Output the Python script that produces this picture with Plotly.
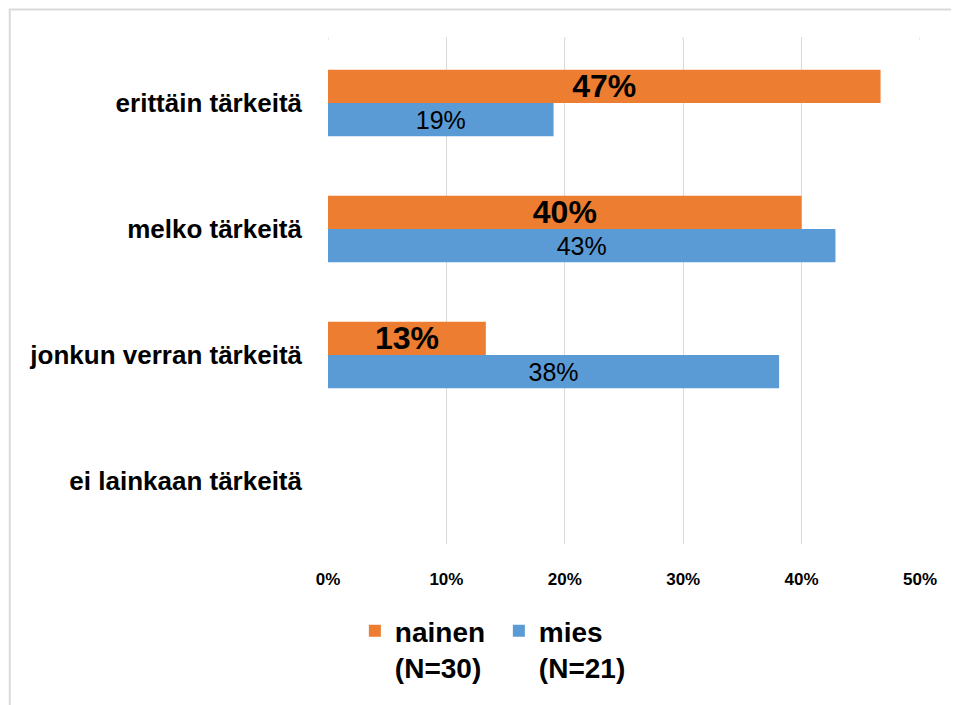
import plotly.graph_objects as go

categories = ["erittäin tärkeitä", "melko tärkeitä", "jonkun verran tärkeitä", "ei lainkaan tärkeitä"]
nainen = [46.67, 40.0, 13.33, 0]
mies = [19.05, 42.86, 38.10, 0]
nainen_labels = ["47%", "40%", "13%", ""]
mies_labels = ["19%", "43%", "38%", ""]
series_names = ["nainen<br>(N=30)", "mies<br>(N=21)"]
tick_vals = [0, 10, 20, 30, 40, 50]
tick_text = ["0%", "10%", "20%", "30%", "40%", "50%"]

FONT = "Liberation Sans"
OFF = 8  # page offset of the figure inside the window

fig = go.Figure()
fig.add_trace(go.Bar(
    y=categories, x=nainen, orientation="h", name=series_names[0],
    marker=dict(color="#ED7D31", line=dict(width=0)),
    text=nainen_labels, textposition="inside", insidetextanchor="middle",
    constraintext="none",
    textfont=dict(family=FONT, size=32, color="black", weight="bold"),
    textangle=0, cliponaxis=False,
))
fig.add_trace(go.Bar(
    y=categories, x=mies, orientation="h", name=series_names[1],
    marker=dict(color="#5B9BD5", line=dict(width=0)),
    text=mies_labels, textposition="inside", insidetextanchor="middle",
    constraintext="none",
    textfont=dict(family=FONT, size=25, color="black"),
    textangle=0, cliponaxis=False,
))

W, H = 959, 705
L, R, T, B = 327.5 - OFF, 920 - OFF, 40 - OFF, 544 - OFF
pw, ph = R - L, B - T

def px_x(p):
    return (p - OFF - L) / pw

def px_y(p):
    return (B - (p - OFF)) / ph

fig.update_layout(
    width=W, height=H,
    margin=dict(l=L, r=W - R, t=T, b=H - B, pad=0),
    paper_bgcolor="white", plot_bgcolor="white",
    barmode="group", bargap=0.471, bargroupgap=0,
    font=dict(family=FONT, color="black"),
    xaxis=dict(
        range=[0, 50], tickvals=tick_vals, ticktext=tick_text,
        showgrid=True, gridcolor="#d9d9d9", gridwidth=1,
        zeroline=False, showline=False,
        tickfont=dict(family=FONT, size=17, color="black", weight="bold"),
        ticklabelstandoff=23, fixedrange=True,
    ),
    yaxis=dict(
        autorange="reversed", showgrid=False, zeroline=False, showline=False,
        tickfont=dict(family=FONT, size=26, color="black", weight="bold"),
        ticklabelstandoff=25, fixedrange=True,
    ),
    legend=dict(
        orientation="h", x=px_x(498.5), xanchor="center", y=px_y(606), yanchor="top",
        font=dict(family=FONT, size=28, color="black", weight="bold"),
        valign="top", itemwidth=30, tracegroupgap=0,
        entrywidth=99, entrywidthmode="pixels",
    ),
    showlegend=True,
    shapes=[
        *[dict(type="line", xref="x", yref="paper", x0=v, x1=v,
               y0=1, y1=px_y(37), line=dict(color="#d9d9d9", width=1))
          for v in tick_vals],
        dict(type="line", xref="paper", yref="paper",
             x0=px_x(8), x1=px_x(975), y0=px_y(9.5), y1=px_y(9.5),
             line=dict(color="#d9d9d9", width=2)),
        dict(type="line", xref="paper", yref="paper",
             x0=px_x(9), x1=px_x(9), y0=px_y(9), y1=px_y(720),
             line=dict(color="#d9d9d9", width=2)),
    ],
)

fig.write_html("out.html")
